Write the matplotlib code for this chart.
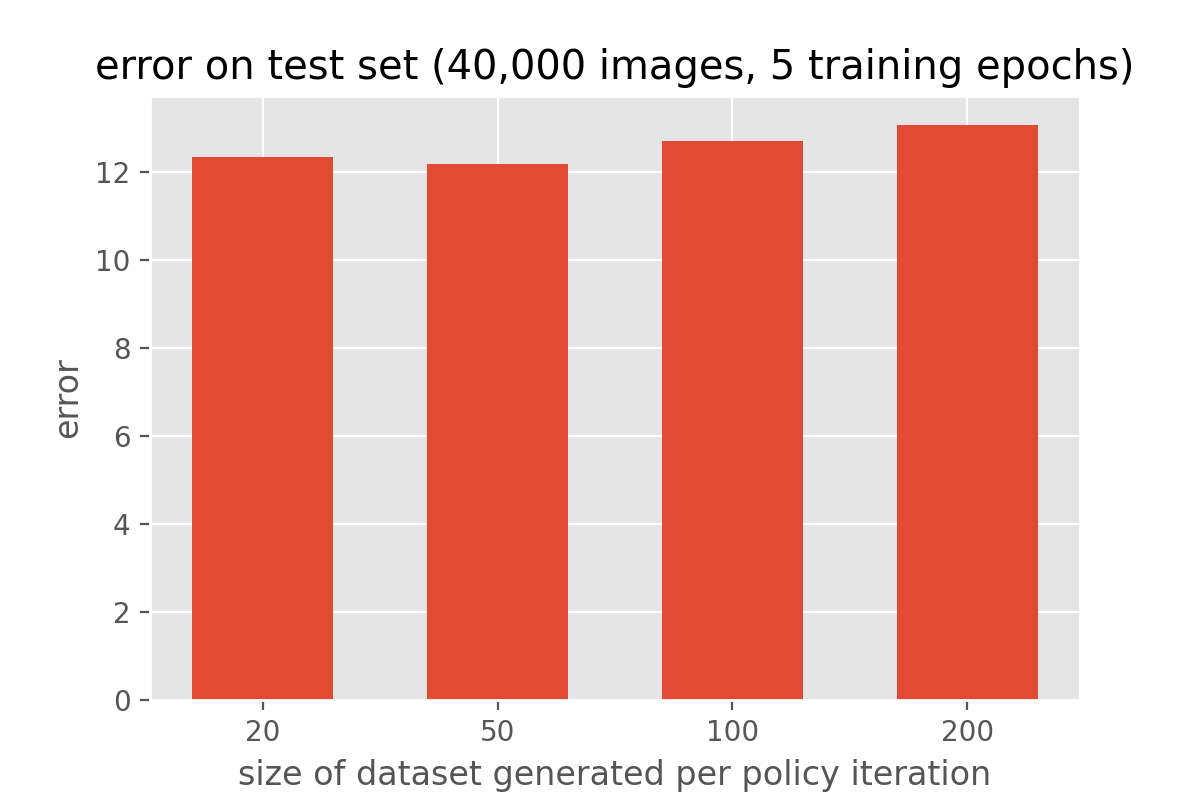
import matplotlib
matplotlib.use('Agg')
import matplotlib.pyplot as plt

# Values
sizes = ['20', '50', '100', '200']
errors = [12.34, 12.18, 12.71, 13.08]

plt.style.use('ggplot')

fig, ax = plt.subplots(figsize=(6, 4), dpi=200)
fig.subplots_adjust(left=0.125, right=0.9, top=0.88, bottom=0.125)

ax.bar(range(len(sizes)), errors, width=0.6)
ax.set_xticks(range(len(sizes)))
ax.set_xticklabels(sizes)

ax.set_title('error on test set (40,000 images, 5 training epochs)')
ax.set_xlabel('size of dataset generated per policy iteration')
ax.set_ylabel('error')

fig.savefig('out.png')
